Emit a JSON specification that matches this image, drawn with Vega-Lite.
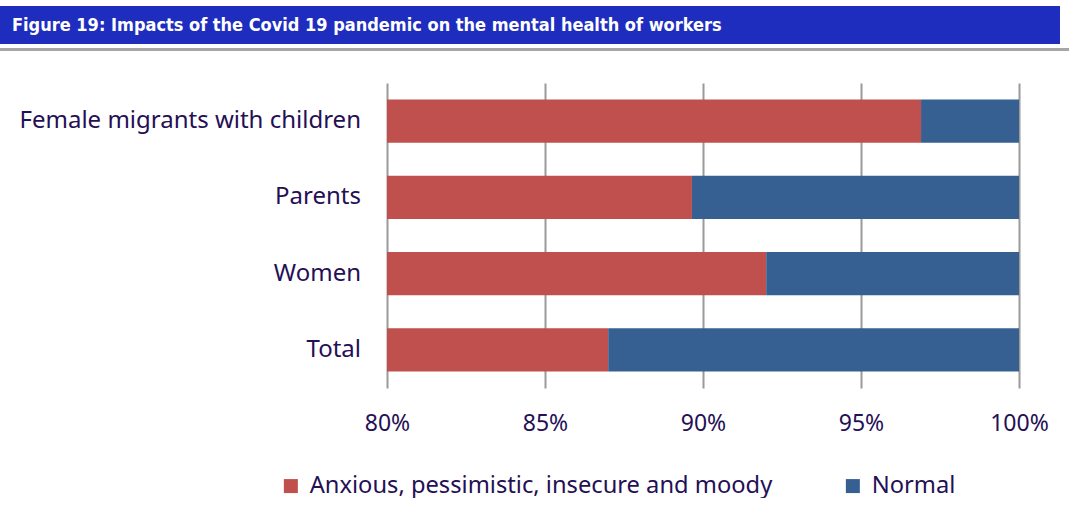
{
  "$schema": "https://vega.github.io/schema/vega-lite/v6.json",
  "background": "white",
  "padding": {"left": 0, "top": 6, "right": 0, "bottom": 0},
  "spacing": 4,
  "config": {
    "font": "Noto Sans",
    "view": {"stroke": null}
  },
  "datasets": {
    "impacts": [
      {"group": "Female migrants with children", "category": "Anxious, pessimistic, insecure and moody", "value": 0.969},
      {"group": "Female migrants with children", "category": "Normal", "value": 0.031},
      {"group": "Parents", "category": "Anxious, pessimistic, insecure and moody", "value": 0.8965},
      {"group": "Parents", "category": "Normal", "value": 0.1035},
      {"group": "Women", "category": "Anxious, pessimistic, insecure and moody", "value": 0.92},
      {"group": "Women", "category": "Normal", "value": 0.08},
      {"group": "Total", "category": "Anxious, pessimistic, insecure and moody", "value": 0.87},
      {"group": "Total", "category": "Normal", "value": 0.13}
    ],
    "groups": [
      {"group": "Female migrants with children"},
      {"group": "Parents"},
      {"group": "Women"},
      {"group": "Total"}
    ]
  },
  "vconcat": [
    {
      "width": 1060,
      "height": 38,
      "view": {"fill": "#1f2dbf", "stroke": null},
      "data": {"values": [{"title": "Figure 19: Impacts of the Covid 19 pandemic on the mental health of workers"}]},
      "mark": {"type": "text", "align": "left", "baseline": "middle", "dx": 12, "dy": 1, "color": "white", "font": "Liberation Sans Narrow, DejaVu Sans Condensed", "fontWeight": "bold", "fontSize": 18},
      "encoding": {
        "x": {"datum": 0, "type": "quantitative", "scale": {"domain": [0, 1]}, "axis": null},
        "text": {"field": "title", "type": "nominal"}
      }
    },
    {
      "spacing": 32,
      "vconcat": [
        {
          "width": 1069,
          "height": 3,
          "view": {"fill": "#a6a6a6", "stroke": null},
          "data": {"values": []},
          "mark": "rule",
          "encoding": {}
        },
        {
          "spacing": 3,
          "hconcat": [
            {
              "width": 361,
              "height": 305,
              "data": {"name": "groups"},
              "mark": {"type": "text", "align": "right", "baseline": "middle", "fontSize": 24, "color": "#250f55", "font": "Noto Sans"},
              "encoding": {
                "x": {"datum": 1, "type": "quantitative", "scale": {"domain": [0, 1]}, "axis": null},
                "y": {
                  "field": "group", "type": "nominal",
                  "sort": ["Female migrants with children", "Parents", "Women", "Total"],
                  "scale": {"paddingInner": 0.43, "paddingOuter": 0.215},
                  "axis": null
                },
                "text": {"field": "group", "type": "nominal"}
              }
            },
            {
              "width": 632,
              "height": 305,
              "data": {"name": "impacts"},
              "mark": {"type": "bar", "clip": true},
              "encoding": {
                "y": {
                  "field": "group", "type": "nominal",
                  "sort": ["Female migrants with children", "Parents", "Women", "Total"],
                  "scale": {"paddingInner": 0.43, "paddingOuter": 0.215},
                  "axis": null
                },
                "x": {
                  "field": "value", "type": "quantitative", "stack": "zero",
                  "scale": {"domain": [0.8, 1]},
                  "axis": {
                    "title": null, "format": ".0%", "values": [0.8, 0.85, 0.9, 0.95, 1],
                    "domain": false, "ticks": false, "grid": true, "gridColor": "#9a9a9a", "gridWidth": 2,
                    "labelFontSize": 23, "labelColor": "#250f55", "labelPadding": 24, "labelFlush": false
                  }
                },
                "color": {
                  "field": "category", "type": "nominal",
                  "scale": {"domain": ["Anxious, pessimistic, insecure and moody", "Normal"], "range": ["#c0504d", "#366092"]},
                  "legend": {
                    "title": null, "orient": "none", "direction": "horizontal", "legendX": 279, "legendY": 468,
                    "symbolType": "square", "symbolSize": 196, "symbolStrokeWidth": 0,
                    "labelFontSize": 23.7, "labelColor": "#250f55", "labelOffset": 7, "columnPadding": 68, "padding": 0, "labelLimit": 600
                  }
                }
              }
            }
          ]
        }
      ]
    }
  ]
}
